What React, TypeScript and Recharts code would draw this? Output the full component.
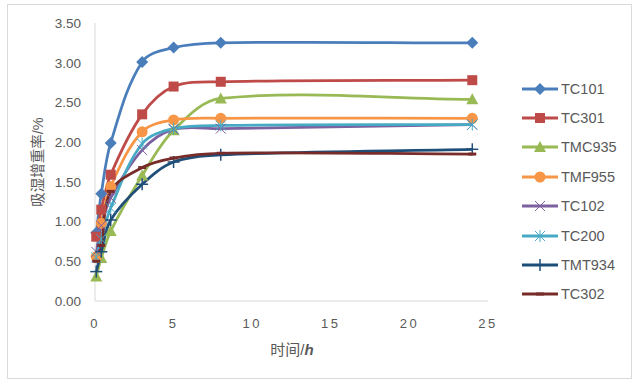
import { LineChart, Line, XAxis, YAxis } from 'recharts';

// sampling times (h)
const times = [0.08, 0.4, 1, 3, 5, 8, 24];

// moisture weight gain (%) per sample
const tc101 = [0.86, 1.35, 1.99, 3.01, 3.19, 3.25, 3.25];
const tc301 = [0.81, 1.15, 1.59, 2.35, 2.7, 2.76, 2.78];
const tmc935 = [0.31, 0.54, 0.88, 1.58, 2.15, 2.55, 2.54];
const tmf955 = [0.56, 0.98, 1.44, 2.13, 2.28, 2.3, 2.3];
const tc102 = [0.62, 0.95, 1.3, 1.9, 2.16, 2.17, 2.22];
const tc200 = [0.55, 0.78, 1.17, 1.98, 2.17, 2.21, 2.22];
const tmt934 = [0.37, 0.62, 1.02, 1.47, 1.75, 1.84, 1.91];
const tc302 = [0.5, 0.7, 1.38, 1.68, 1.8, 1.86, 1.85];

const xTicks = [0, 5, 10, 15, 20, 25];
const yTicks = [0, 0.5, 1, 1.5, 2, 2.5, 3, 3.5];

type Shape = 'diamond' | 'square' | 'triangle' | 'circle' | 'x' | 'star' | 'plus' | 'dash';

const series: { name: string; values: number[]; color: string; shape: Shape }[] = [
    { name: 'TC101', values: tc101, color: '#4a7ebb', shape: 'diamond' },
    { name: 'TC301', values: tc301, color: '#be4b48', shape: 'square' },
    { name: 'TMC935', values: tmc935, color: '#98b954', shape: 'triangle' },
    { name: 'TMF955', values: tmf955, color: '#f79646', shape: 'circle' },
    { name: 'TC102', values: tc102, color: '#7d60a0', shape: 'x' },
    { name: 'TC200', values: tc200, color: '#46aac5', shape: 'star' },
    { name: 'TMT934', values: tmt934, color: '#1f4e79', shape: 'plus' },
    { name: 'TC302', values: tc302, color: '#772c2a', shape: 'dash' },
];

const data = times.map((t, i) => {
    const row: any = { t };
    series.forEach(s => (row[s.name] = s.values[i]));
    return row;
});

const FONT = '"Liberation Sans", "Noto Sans CJK SC", sans-serif';
const TEXT = '#595959';
const GRID = '#d9d9d9';

// Excel-like smoothed line: bezier through the points, tangent along the
// neighbours, handle length a third of the segment (no loops on uneven spacing)
const excelSmooth = (context: any) => {
    let pts: number[][] = [];
    const handle = (from: number[], to: number[], len: number) => {
        const dx = to[0] - from[0];
        const dy = to[1] - from[1];
        const d = Math.hypot(dx, dy) || 1;
        return [(dx / d) * len, (dy / d) * len];
    };
    return {
        areaStart() {},
        areaEnd() {},
        lineStart() {
            pts = [];
        },
        point(x: number, y: number) {
            pts.push([+x, +y]);
        },
        lineEnd() {
            if (!pts.length) return;
            context.moveTo(pts[0][0], pts[0][1]);
            for (let i = 0; i < pts.length - 1; i++) {
                const p0 = pts[i - 1] || pts[i];
                const p1 = pts[i];
                const p2 = pts[i + 1];
                const p3 = pts[i + 2] || pts[i + 1];
                const seg = Math.hypot(p2[0] - p1[0], p2[1] - p1[1]) / 3;
                const h1 = handle(p0, p2, seg);
                const h2 = handle(p1, p3, seg);
                context.bezierCurveTo(p1[0] + h1[0], p1[1] + h1[1], p2[0] - h2[0], p2[1] - h2[1], p2[0], p2[1]);
            }
        },
    };
};

function Marker({ shape, color, cx, cy }: { shape: Shape; color: string; cx: number; cy: number }) {
    switch (shape) {
        case 'diamond':
            return <polygon points={`${cx},${cy - 6} ${cx + 6},${cy} ${cx},${cy + 6} ${cx - 6},${cy}`} fill={color} />;
        case 'square':
            return <rect x={cx - 5} y={cy - 5} width={10} height={10} fill={color} />;
        case 'triangle':
            return <polygon points={`${cx},${cy - 6} ${cx + 6},${cy + 5} ${cx - 6},${cy + 5}`} fill={color} />;
        case 'circle':
            return <circle cx={cx} cy={cy} r={5.5} fill={color} />;
        case 'x':
            return (
                <g stroke={color} strokeWidth={1}>
                    <line x1={cx - 5} y1={cy - 5} x2={cx + 5} y2={cy + 5} />
                    <line x1={cx - 5} y1={cy + 5} x2={cx + 5} y2={cy - 5} />
                </g>
            );
        case 'star':
            return (
                <g stroke={color} strokeWidth={1}>
                    <line x1={cx - 5} y1={cy - 5} x2={cx + 5} y2={cy + 5} />
                    <line x1={cx - 5} y1={cy + 5} x2={cx + 5} y2={cy - 5} />
                    <line x1={cx} y1={cy - 6} x2={cx} y2={cy + 6} />
                </g>
            );
        case 'plus':
            return (
                <g stroke={color} strokeWidth={1.5}>
                    <line x1={cx - 6} y1={cy} x2={cx + 6} y2={cy} />
                    <line x1={cx} y1={cy - 6} x2={cx} y2={cy + 6} />
                </g>
            );
        case 'dash':
            return <line x1={cx - 4} y1={cy} x2={cx + 4} y2={cy} stroke={color} strokeWidth={3} />;
    }
}

const makeDot = (shape: Shape, color: string) => (p: any) => (
    <g key={`dot-${p.index}`}>
        <Marker shape={shape} color={color} cx={p.cx} cy={p.cy} />
    </g>
);

export default function App() {
    return (
        <div style={{ position: 'absolute', left: 0, top: 0, width: 639, height: 385, background: '#fff', fontFamily: FONT }}>
            <div style={{ position: 'absolute', left: 7, top: 4, width: 623, height: 373, border: `1px solid ${GRID}` }} />
            <LineChart
                width={639}
                height={385}
                data={data}
                margin={{ top: 23, right: 151, left: 45, bottom: 54 }}
            >
                <XAxis
                    dataKey="t"
                    type="number"
                    domain={[0, 25]}
                    ticks={xTicks}
                    height={30}
                    axisLine={{ stroke: GRID }}
                    tickLine={false}
                    tickMargin={12}
                    tick={{ fontSize: 13, fill: TEXT, fontFamily: FONT, letterSpacing: 2.5 }}
                />
                <YAxis
                    type="number"
                    domain={[0, 3.5]}
                    ticks={yTicks}
                    width={50}
                    axisLine={{ stroke: GRID }}
                    tickLine={false}
                    tickMargin={8}
                    tickFormatter={(v: number) => v.toFixed(2)}
                    tick={{ fontSize: 13.5, fill: TEXT, fontFamily: FONT }}
                />
                {series.map(s => (
                    <Line
                        key={s.name}
                        dataKey={s.name}
                        type={excelSmooth as any}
                        stroke={s.color}
                        strokeWidth={2.75}
                        dot={makeDot(s.shape, s.color)}
                        activeDot={false}
                        isAnimationActive={false}
                    />
                ))}
            </LineChart>
            <div
                style={{
                    position: 'absolute',
                    left: 36,
                    top: 162,
                    transform: 'translate(-50%, -50%) rotate(-90deg)',
                    whiteSpace: 'nowrap',
                    fontSize: 14.5,
                    color: TEXT,
                }}
            >
                吸湿增重率/%
            </div>
            <div
                style={{
                    position: 'absolute',
                    left: 292,
                    top: 348,
                    transform: 'translate(-50%, -50%)',
                    whiteSpace: 'nowrap',
                    fontSize: 15,
                    color: TEXT,
                }}
            >
                时间/<b><i>h</i></b>
            </div>
            <div style={{ position: 'absolute', left: 520, top: 74 }}>
                {series.map(s => (
                    <div key={s.name} style={{ display: 'flex', alignItems: 'center', height: 29.4 }}>
                        <svg width={40} height={14}>
                            <line x1={2} y1={7} x2={38} y2={7} stroke={s.color} strokeWidth={3} />
                            <Marker shape={s.shape} color={s.color} cx={20} cy={7} />
                        </svg>
                        <span style={{ fontSize: 14.5, color: TEXT, marginLeft: 1 }}>{s.name}</span>
                    </div>
                ))}
            </div>
        </div>
    );
}
